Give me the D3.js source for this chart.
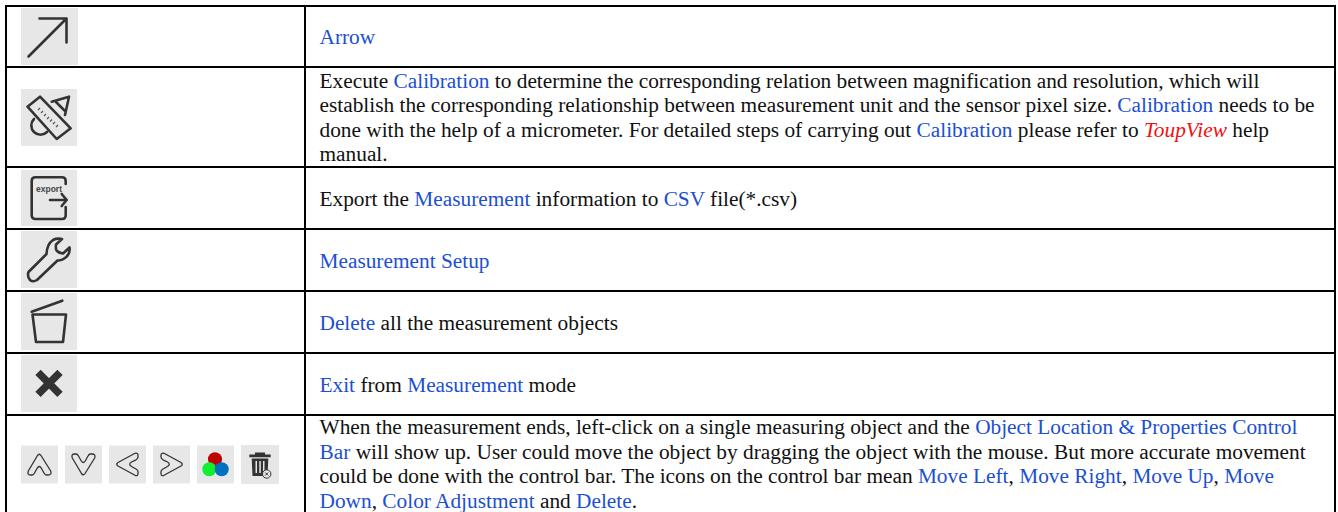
<!DOCTYPE html>
<html>
<head>
<meta charset="utf-8">
<script src="https://cdn.jsdelivr.net/npm/d3@7"></script>
<style>
  html, body { margin: 0; padding: 0; background: #fff; }
  svg { display: block; }
  text { font-family: "Liberation Serif", "Times New Roman", serif; font-size: 21.33px; fill: #111; }
</style>
</head>
<body>
<div id="chart"></div>
<script>
// row boundaries (the last row runs off the bottom of the crop)
const rowEdges = [6, 67, 167, 229, 291, 353, 415, 512];
const colEdges = [6, 305, 1335];

// [text, style] runs, one array per line: n = plain, b = blue link, r = red italic
const rowLines = [
  [[["Arrow", "b"]]],
  [
    [["Execute ", "n"], ["Calibration", "b"], [" to determine the corresponding relation between magnification and resolution, which will", "n"]],
    [["establish the corresponding relationship between measurement unit and the sensor pixel size. ", "n"], ["Calibration", "b"], [" needs to be", "n"]],
    [["done with the help of a micrometer. For detailed steps of carrying out ", "n"], ["Calibration", "b"], [" please refer to ", "n"], ["ToupView", "r"], [" help", "n"]],
    [["manual.", "n"]]
  ],
  [[["Export the ", "n"], ["Measurement", "b"], [" information to ", "n"], ["CSV", "b"], [" file(*.csv)", "n"]]],
  [[["Measurement Setup", "b"]]],
  [[["Delete", "b"], [" all the measurement objects", "n"]]],
  [[["Exit", "b"], [" from ", "n"], ["Measurement", "b"], [" mode", "n"]]],
  [
    [["When the measurement ends, left-click on a single measuring object and the ", "n"], ["Object Location & Properties Control", "b"]],
    [["Bar", "b"], [" will show up. User could move the object by dragging the object with the mouse. But more accurate movement", "n"]],
    [["could be done with the control bar. The icons on the control bar mean ", "n"], ["Move Left", "b"], [", ", "n"], ["Move Right", "b"], [", ", "n"], ["Move Up", "b"], [", ", "n"], ["Move", "b"]],
    [["Down", "b"], [", ", "n"], ["Color Adjustment", "b"], [" and ", "n"], ["Delete", "b"], [".", "n"]]
  ]
];

// icon tiles: row index, x, y, w, h, icon name
const tiles = [
  [0, 21, 8, 57, 57, "arrow"],
  [1, 21, 89, 56, 57, "ruler"],
  [2, 21, 170, 56, 56, "export"],
  [3, 21, 231, 56, 57, "wrench"],
  [4, 21, 293, 56, 57, "bin"],
  [5, 21, 355, 56, 57, "cross"],
  [6, 21, 445.5, 37, 38, "up"],
  [6, 65, 445.5, 37, 38, "down"],
  [6, 109, 445.5, 37, 38, "left"],
  [6, 153, 445.5, 37, 38, "right"],
  [6, 197, 445.5, 37, 38, "rgb"],
  [6, 241, 445, 38, 39, "trash"]
];

const iconPaths = {
  arrow: "M7.5 48.5L45.5 10.5M18.5 10.5H45.5V34.5",
  ruler: "M6.5 17.7L19 7.7L49.7 39.3L35.7 50ZM30.7 12.7L48 7.7L44 26M35 13L44 22M13 30A9 9 0 1 0 26 43",
  export: "M44.7 14V11Q44.7 7.3 41 7.3H14.5Q10.7 7.3 10.7 11V45Q10.7 49 14.5 49H41Q44.7 49 44.7 45V37M29 30H45.7M40.7 24L45.7 30L40.7 36",
  wrench: "M7.5 41L25.5 23Q26 13 32 9Q36 7 41 8L35 13.5Q34.5 19 36 20Q38 22 42 22.5L48.5 16.5Q49.5 23 44 27Q40 30 36.5 29.5L16 49Q12 51.5 9 49Q6 45 7.5 41Z",
  bin: "M10.7 18.7L41.3 7.7M11.5 21.5H45L42 49H15Z",
  cross: "M17 17.3L39 39.3M39 17.3L17 39.3",
  up: "M16.5 10Q18.3 7.5 20 10L29.7 25.5Q31 29.5 27 29.5H25.5Q24 29.5 23 27.5L20.5 23Q18.3 19 16 23L13.5 27.5Q12.5 29.5 11 29.5H9.5Q6 29.5 7.3 25.5Z",
  down: "M16.5 28Q18.3 30.5 20 28L29.7 12.5Q31 8.5 27 8.5H25.5Q24 8.5 23 10.5L20.5 15Q18.3 19 16 15L13.5 10.5Q12.5 8.5 11 8.5H9.5Q6 8.5 7.3 12.5Z",
  left: "M9 17L26 7.8Q29 7 29 10V11.5Q29 13 27 14.3L22.5 16.5Q19 18.7 22.5 21L27 23.5Q29 24.7 29 26V28Q29 31 26 29.8L9 20.5Q6.5 18.7 9 17Z",
  right: "M28 17L11 7.8Q8 7 8 10V11.5Q8 13 10 14.3L14.5 16.5Q18 18.7 14.5 21L10 23.5Q8 24.7 8 26V28Q8 31 11 29.8L28 20.5Q30.5 18.7 28 17Z"
};
const rulerTicks = "M17 21l2-2M20 24l2-2M23 27l2-2M26 30l2-2M29 32.5l2-2M32 35l2-2M35 38l2-2";
const trashBody = "M8.3 9.5H14V7.5H24V9.5H29.7V12.3H8.3ZM10.7 13.5H27.3L26.5 31H11.5ZM14.5 16V28H16V16ZM18.3 16V28H19.8V16ZM22 16V28H23.5V16Z";
const rgbDots = [["#c00000", 18, 13.7], ["#10f030", 12.3, 23.7], ["#0070c0", 24.7, 23.7]];

const colors = { n: "#111", b: "#1c4fd2", r: "#f01010" };
const lineHeight = 24.4;

const svg = d3.select("#chart").append("svg")
  .attr("width", 1338)
  .attr("height", 512)
  .attr("viewBox", [0, 0, 1338, 512]);

// table rules, no bottom rule since it is not in the picture
svg.append("g").selectAll("line").data(rowEdges.slice(0, -1)).join("line")
  .attr("x1", colEdges[0] - 1).attr("x2", colEdges[2] + 1)
  .attr("y1", d => d).attr("y2", d => d)
  .attr("stroke", "#000").attr("stroke-width", 2);
svg.append("g").selectAll("line").data(colEdges).join("line")
  .attr("x1", d => d).attr("x2", d => d)
  .attr("y1", rowEdges[0]).attr("y2", rowEdges[rowEdges.length - 1])
  .attr("stroke", "#000").attr("stroke-width", 2);

// icons
const tile = svg.append("g").selectAll("g").data(tiles).join("g")
  .attr("transform", d => `translate(${d[1]},${d[2]})`);
tile.append("rect")
  .attr("width", d => d[3]).attr("height", d => d[4])
  .attr("fill", "#e7e7e7");
tile.filter(d => iconPaths[d[5]]).append("path")
  .attr("d", d => iconPaths[d[5]])
  .attr("fill", "none")
  .attr("stroke", "#333")
  .attr("stroke-linecap", d => d[5] === "cross" ? "butt" : "round")
  .attr("stroke-linejoin", "round")
  .attr("stroke-width", d => d[5] === "cross" ? 7.5 : d[0] === 6 ? 1.3 : 2.6);
tile.filter(d => d[5] === "ruler").append("path")
  .attr("d", rulerTicks)
  .attr("fill", "none")
  .attr("stroke", "#555")
  .attr("stroke-width", 1.2);
tile.filter(d => d[5] === "export").append("text")
  .attr("x", 15).attr("y", 21.7)
  .style("font-family", "Liberation Sans")
  .style("font-size", "8.5px")
  .style("font-weight", "bold")
  .style("fill", "#444")
  .text("export");
tile.filter(d => d[5] === "rgb").selectAll("circle").data(rgbDots).join("circle")
  .attr("r", 7).attr("cx", d => d[1]).attr("cy", d => d[2]).attr("fill", d => d[0]);

const trash = tile.filter(d => d[5] === "trash");
trash.append("path")
  .attr("d", trashBody)
  .attr("fill", "#333")
  .attr("fill-rule", "evenodd");
trash.append("circle")
  .attr("cx", 25.7).attr("cy", 29).attr("r", 4.2)
  .attr("fill", "#e7e7e7").attr("stroke", "#333").attr("stroke-width", 1);
trash.append("path")
  .attr("d", "M24.2 27.5l3 3M27.2 27.5l-3 3")
  .attr("stroke", "#333").attr("stroke-width", 1);

// text column
const rowGroups = svg.append("g").selectAll("text").data(rowLines.flatMap((lines, r) =>
  lines.map((runs, i) => ({ runs, i, n: lines.length, r })))).join("text")
  .attr("x", colEdges[1] + 14.5)
  .attr("y", d => {
    const mid = (rowEdges[d.r] + rowEdges[d.r + 1]) / 2;
    return mid + (d.i - (d.n - 1) / 2) * lineHeight + 7.5;
  })
  .attr("xml:space", "preserve")
  .style("white-space", "pre");

rowGroups.selectAll("tspan").data(d => d.runs).join("tspan")
  .style("fill", d => colors[d[1]])
  .style("font-style", d => d[1] === "r" ? "italic" : "normal")
  .text(d => d[0]);
</script>
</body>
</html>
